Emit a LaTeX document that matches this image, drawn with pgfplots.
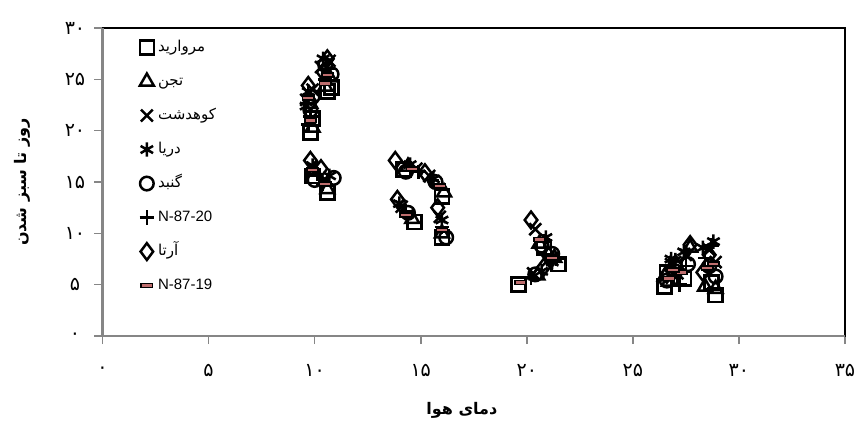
\documentclass[border=0pt]{standalone}
\usepackage{pgfplots}
\pgfplotsset{compat=1.18}
\usepackage{fontspec}
\setmainfont{Liberation Sans}
\newfontfamily\arabicfont[Script=Arabic]{DejaVu Sans}
\TeXXeTstate=1
\definecolor{dashfill}{RGB}{190,110,110}
\definecolor{axgray}{RGB}{134,134,134}
\begin{document}
\begin{tikzpicture}
\useasboundingbox (-51.25pt,-44.5pt) rectangle (376.75pt,168pt);
\begin{axis}[
  at={(0,0)}, anchor=south west,
  scale only axis, width=371.25pt, height=154pt,
  xmin=0, xmax=35, ymin=0, ymax=30,
  clip=false,
  xtick={0,5,...,35}, ytick={0,5,...,30},
  xticklabels={{\arabicfont ۰},{\arabicfont ۵},{\arabicfont ۱۰},{\arabicfont ۱۵},{\arabicfont ۲۰},{\arabicfont ۲۵},{\arabicfont ۳۰},{\arabicfont ۳۵}},
  yticklabels={{\arabicfont ۰},{\arabicfont ۵},{\arabicfont ۱۰},{\arabicfont ۱۵},{\arabicfont ۲۰},{\arabicfont ۲۵},{\arabicfont ۳۰}},
  tick label style={font=\fontsize{9.5}{11}\selectfont, black},
  xticklabel style={anchor=center, yshift=-13pt},
  yticklabel style={anchor=center, xshift=-9.75pt},
  tick align=outside, major tick length=4pt,
  xtick pos=bottom, ytick pos=left,
  tick style={axgray, line width=0.8pt},
  axis line style={black, line width=0.9pt},
  xlabel={\arabicfont\beginR دمای هوا\endR},
  ylabel={\arabicfont\beginR روز تا سبز شدن\endR},
  xlabel style={font=\fontsize{8}{10}\bfseries, at={(axis description cs:0.484,-0.24)}, anchor=center},
  ylabel style={font=\fontsize{8}{10}\bfseries, at={(axis description cs:-0.1084,0.5)}, anchor=center},
  legend style={at={(axis cs:1.45,29.5)}, anchor=north west, draw=none, fill=none,
    font=\fontsize{7.5}{9}\selectfont, row sep=7pt, column sep=1pt,
    nodes={inner sep=1pt, text height=6pt, text depth=2pt}},
  legend cell align=left,
  legend image code/.code={\draw[#1] plot coordinates {(0pt,0pt)};},
  every axis plot/.append style={black, only marks, mark options={solid, line width=1.25pt}},
]
\draw[axgray, line width=1.1pt] (rel axis cs:0,1) -- (rel axis cs:0,0) -- (rel axis cs:1,0);
% square
\addplot[mark=square, mark size=3.5pt] coordinates {
(9.8,19.8) (10.6,23.8) (9.9,15.6) (10.6,14.0) (14.2,16.2) (16.0,13.6) (14.7,11.1) (16.0,9.6) (19.6,5.0) (21.5,7.0) (20.8,8.6) (26.5,4.8) (27.4,5.6) (28.9,4.0)
(9.9,21.2) (10.8,24.2) (26.6,6.2) (28.7,5.2)};
\addlegendentry{\arabicfont\beginR مروارید\endR}
% triangle
\addplot[mark=triangle, mark size=4pt] coordinates {
(9.9,20.3) (10.5,24.3) (10.0,16.0) (10.6,14.3) (14.4,16.5) (16.1,14.0) (14.6,11.4) (16.0,10.0) (20.5,5.9) (21.3,7.6) (20.6,9.0) (26.7,5.3) (27.7,8.6) (28.9,4.6)
(9.8,22.6) (10.7,25.2) (26.5,5.8) (28.4,4.8)};
\addlegendentry{\arabicfont\beginR تجن\endR}
% x
\addplot[mark=x, mark size=4.2pt] coordinates {
(9.6,23.0) (10.3,26.2) (9.9,16.4) (10.5,15.2) (14.8,16.3) (15.4,15.6) (14.1,12.6) (15.9,11.6) (20.3,6.1) (21.0,7.4) (20.4,10.4) (26.8,7.0) (27.5,7.9) (28.6,8.4)
(9.9,24.0) (10.7,26.8) (27.1,6.1) (28.9,7.2)};
\addlegendentry{\arabicfont\beginR کوهدشت\endR}
% asterisk
\addplot[mark=asterisk, mark size=3.6pt] coordinates {
(9.7,23.8) (10.6,25.8) (9.9,16.6) (10.7,15.6) (14.5,16.7) (15.6,15.3) (14.0,12.9) (16.0,11.3) (20.7,6.3) (21.2,7.2) (20.9,9.6) (27.0,7.4) (27.4,8.2) (28.8,9.2)
(9.6,22.4) (10.4,27.0) (26.8,7.5) (28.3,8.6)};
\addlegendentry{\arabicfont\beginR دریا\endR}
% circle
\addplot[mark=o, mark size=3.4pt] coordinates {
(9.8,22.0) (10.8,25.5) (10.0,15.2) (10.9,15.4) (14.3,16.0) (15.7,15.0) (14.4,12.0) (16.2,9.6) (20.4,6.0) (21.2,8.0) (20.7,8.8) (27.0,6.3) (27.6,7.0) (28.6,6.8)
(9.9,23.3) (10.5,26.4) (26.6,5.4) (28.9,5.8)};
\addlegendentry{\arabicfont\beginR گنبد\endR}
% plus
\addplot[mark=+, mark size=3.6pt] coordinates {
(9.8,21.4) (10.5,25.0) (10.1,15.8) (10.4,14.8) (14.9,16.0) (15.5,15.2) (14.3,12.2) (16.0,10.6) (20.2,5.7) (21.4,7.5) (20.8,9.2) (26.9,6.6) (27.5,6.8) (28.4,7.6)
(9.7,20.6) (10.6,26.0) (27.2,5.0) (28.7,8.8)};
\addlegendentry{N-87-20}
% diamond
\addplot[mark=diamond, mark size=4.2pt] coordinates {
(9.7,24.4) (10.6,27.0) (9.8,17.1) (10.3,16.3) (13.8,17.1) (15.2,15.9) (13.9,13.3) (15.8,12.5) (20.8,6.7) (21.0,7.9) (20.2,11.3) (26.6,6.0) (27.7,8.9) (28.3,6.2)
(9.8,22.8) (10.4,25.7) (27.0,7.0) (28.6,7.9)};
\addlegendentry{\arabicfont\beginR آرتا\endR}
% dash
\addplot[mark=square*, mark size=2.8pt, mark options={yscale=0.35, fill=dashfill, line width=0.8pt}] coordinates {
(9.8,21.0) (10.5,24.6) (9.9,16.2) (10.5,14.8) (14.6,16.3) (15.9,14.6) (14.3,11.8) (16.0,10.3) (19.7,5.2) (21.2,7.6) (20.6,9.4) (26.7,5.6) (27.3,6.2) (28.5,6.6)
(9.7,23.2) (10.6,25.4) (26.9,6.4) (28.8,7.0)};
\addlegendentry{N-87-19}
\end{axis}
\end{tikzpicture}
\end{document}
